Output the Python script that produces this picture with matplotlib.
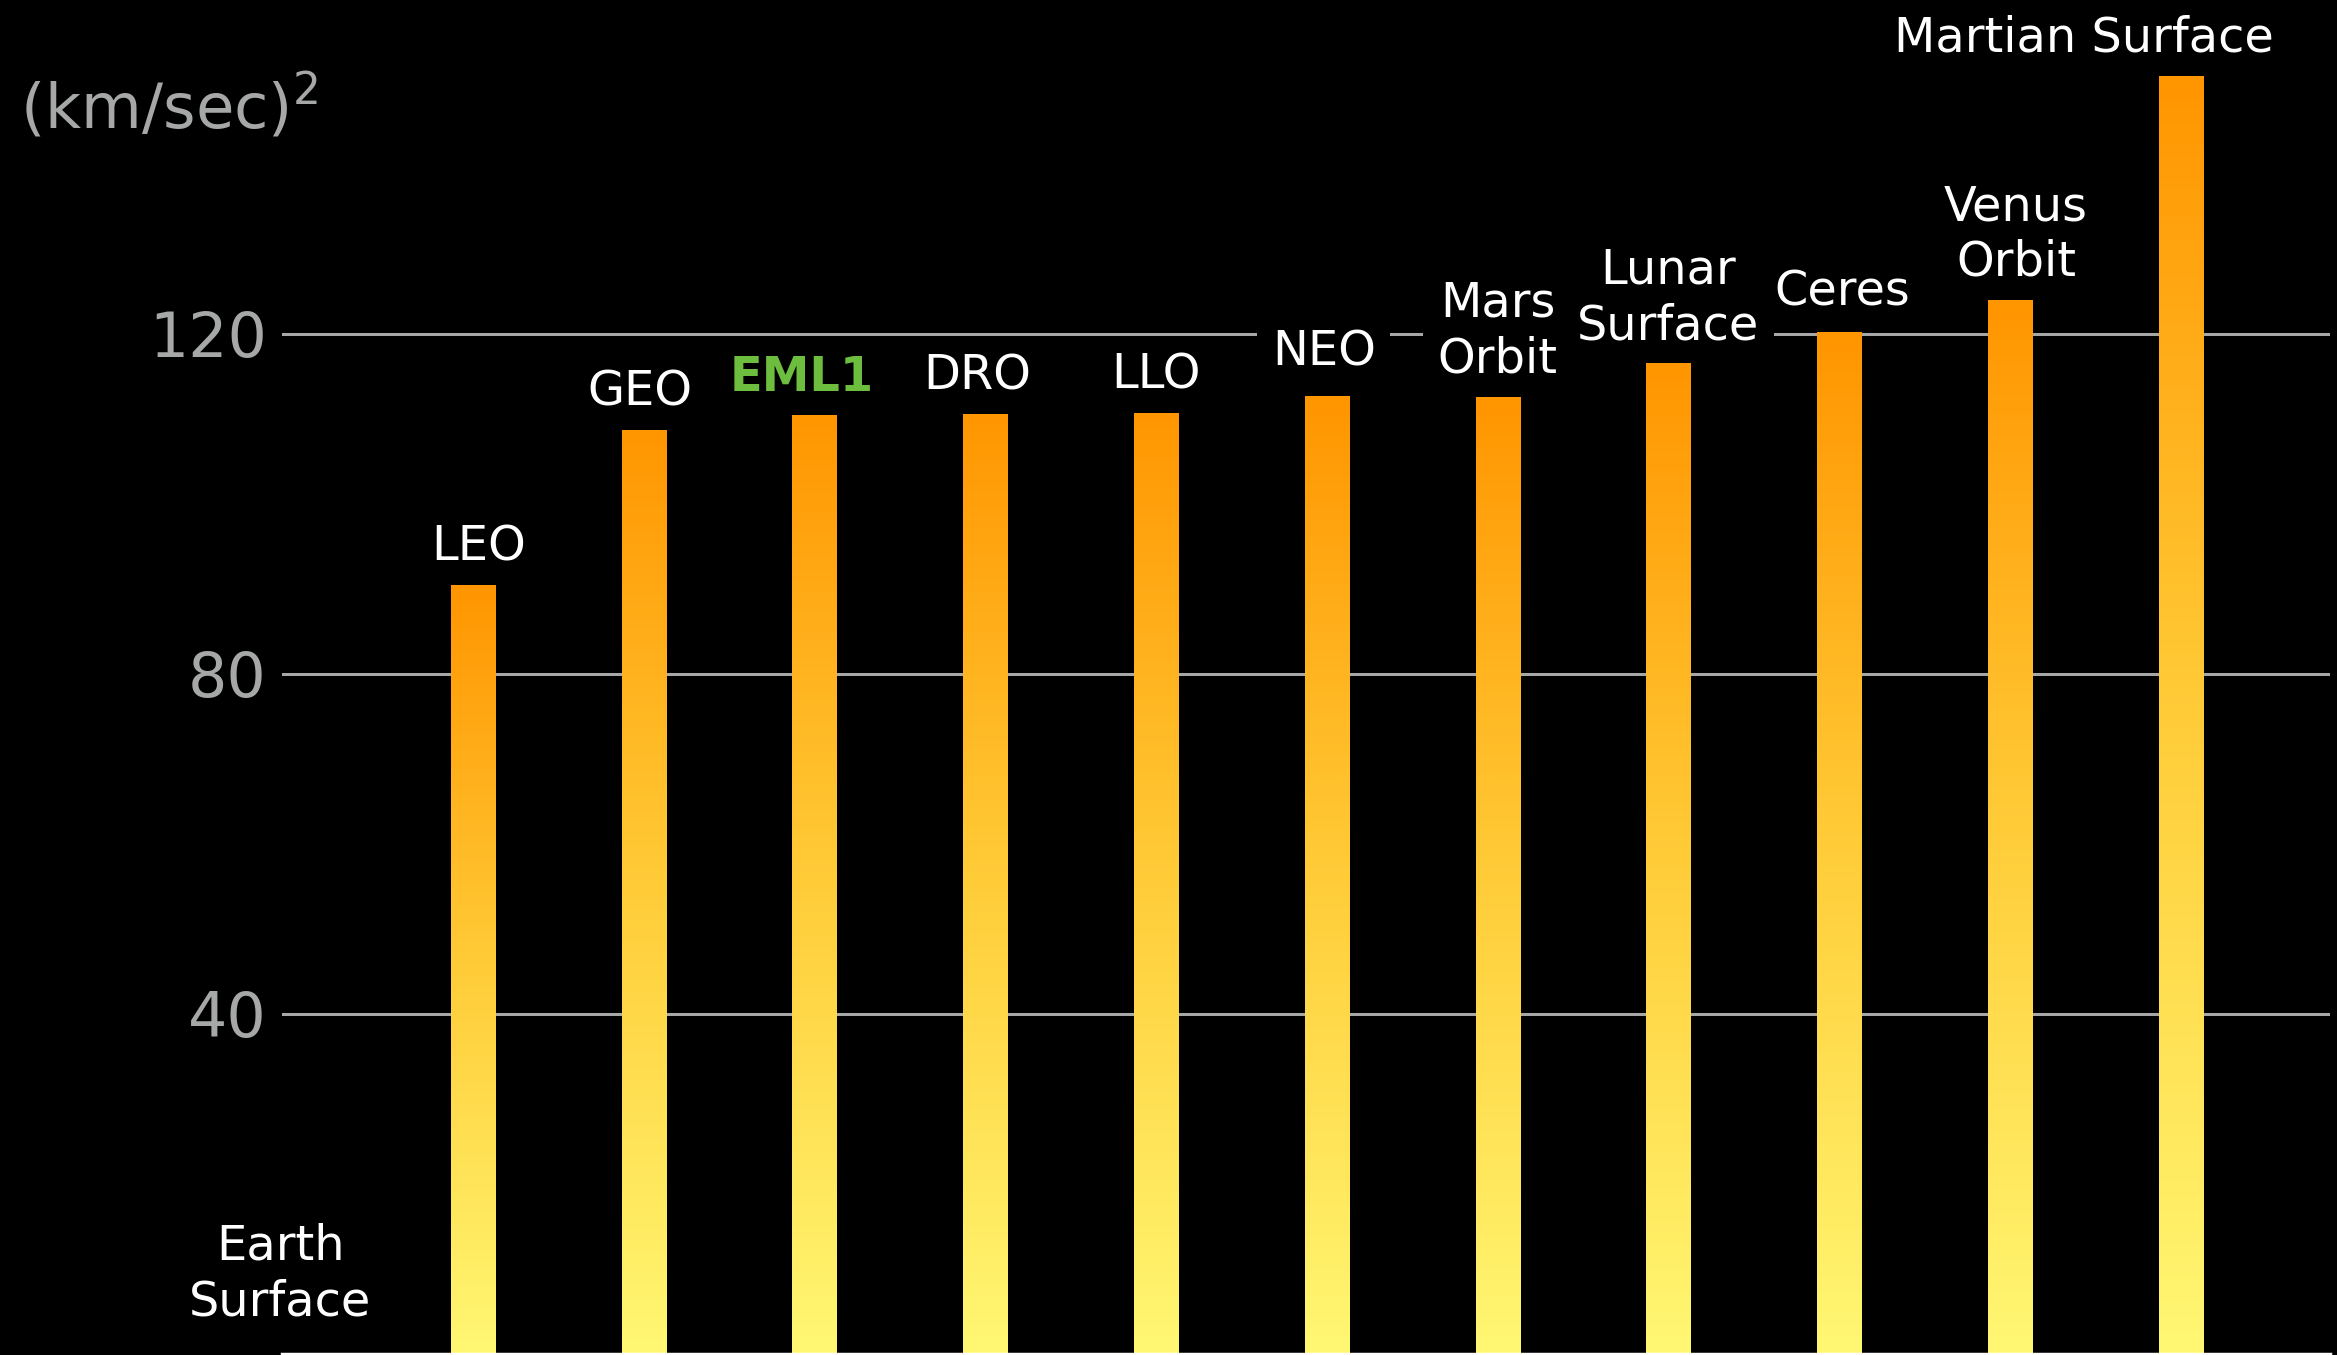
import numpy as np
import matplotlib
matplotlib.use("Agg")
import matplotlib.pyplot as plt
from matplotlib.colors import LinearSegmentedColormap

# Destinations and the energy needed to reach them, in (km/sec)^2
destinations = ["Earth\nSurface", "LEO", "GEO", "EML1", "DRO", "LLO", "NEO",
                "Mars\nOrbit", "Lunar\nSurface", "Ceres", "Venus\nOrbit",
                "Martian Surface"]
energy = [0.0, 90.7, 109.5, 111.4, 111.7, 112.0, 112.7, 112.7, 116.9, 120.2,
          124.2, 150.6]
y_ticks = [40, 80, 120]
highlight = "EML1"

# Label placement tweaks (pixels): horizontal shift and gap above the bar top
label_dx = [-22, 6, -4, -13, -8, 0, -3, 0, 0, 3, 6, -97]
label_gap = [39, 22, 17, 16, 15, 13, 30, 23, 21, 26, 22, 22]

DPI = 100
W, H = 2337, 1355
plt.rcParams["mathtext.fontset"] = "dejavusans"
fig = plt.figure(figsize=(W / DPI, H / DPI), dpi=DPI, facecolor="black")
ax = fig.add_axes([282 / W, 1 / H, (2330 - 282) / W, 1 - 1 / H])
ax.set_facecolor("black")

gray = "#A5A8A7"
font = "DejaVu Sans"

x = np.arange(len(destinations))
bars = ax.bar(x, energy, width=0.258, color="none", edgecolor="none", zorder=2)

# Vertical gradient inside each bar: orange at the top, pale yellow at the base
grad_cmap = LinearSegmentedColormap.from_list(
    "bar_grad", [(1.0, 0.97, 0.45), (1.0, 0.80, 0.22), (1.0, 0.585, 0.0)])
grad = np.linspace(0, 1, 256).reshape(-1, 1)
for rect in bars:
    h = rect.get_height()
    if h <= 0:
        continue
    x0 = rect.get_x()
    im = ax.imshow(grad, cmap=grad_cmap, origin="lower", aspect="auto",
                   extent=(x0, x0 + rect.get_width(), 0, h),
                   interpolation="bilinear", zorder=2)
    im.set_clip_path(rect)

ax.set_xlim(-0.118, 11.874)
ax.set_ylim(0, 1354 / 8.5025)

# Axes styling
for side in ("left", "right", "top"):
    ax.spines[side].set_visible(False)
ax.spines["bottom"].set_color("white")
ax.spines["bottom"].set_linewidth(2.5)
ax.spines["bottom"].set_zorder(4)
ax.set_xticks([])
ax.set_yticks(y_ticks)
ax.set_yticklabels([str(t) for t in y_ticks])
ax.tick_params(axis="y", length=0, pad=10.8, labelsize=44.5, labelcolor=gray)
for lab in ax.get_yticklabels():
    lab.set_family(font)
ax.yaxis.grid(True, color=gray, linewidth=2.16, zorder=1)
ax.set_axisbelow(True)

# Destination labels above each bar
pt = 72.0 / DPI
for xi, val, name, dx, gap in zip(x, energy, destinations, label_dx, label_gap):
    is_hl = name == highlight
    ax.annotate(name, xy=(xi, val), xytext=(dx * pt, gap * pt),
                textcoords="offset points", ha="center", va="baseline",
                fontsize=34.5, family=font, linespacing=1.24,
                color="#6DBE3F" if is_hl else "white",
                fontweight="bold" if is_hl else "normal",
                bbox=dict(boxstyle="square,pad=0.3", facecolor="black",
                          edgecolor="none"),
                zorder=5, annotation_clip=False)

# Unit label in the top-left corner
fig.text(20 / W, 1 - 128 / H, r"(km/sec)$^{2}$", color=gray, fontsize=45,
         family=font, ha="left", va="baseline")

fig.savefig("out.png", dpi=DPI, facecolor="black")
